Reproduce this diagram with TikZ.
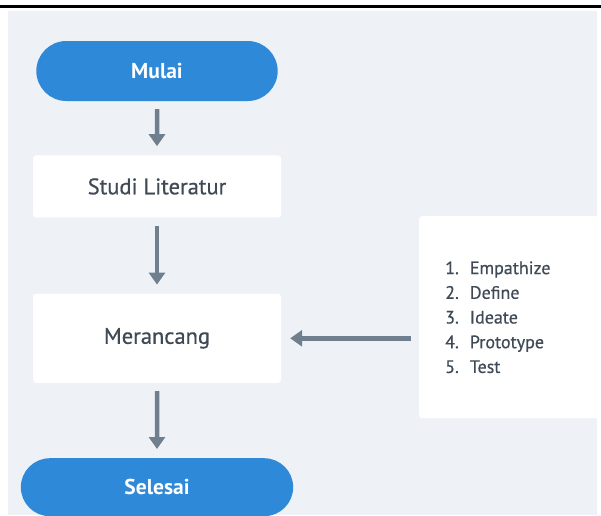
\documentclass[tikz,border=0pt]{standalone}
\usepackage{fontspec}
\setmainfont{PT Sans}
\usetikzlibrary{positioning,arrows.meta,shapes.misc}
\definecolor{PillBlue}{HTML}{2E89D9}
\definecolor{PageGrey}{HTML}{EEF2F6}
\definecolor{ArrowSlate}{HTML}{6F7F8E}
\definecolor{TextSlate}{HTML}{3F4A56}

\begin{document}
\begin{tikzpicture}[x=1pt,y=-1pt,
		pill/.style={rounded rectangle, fill=PillBlue, text=white,
			minimum width=248pt, minimum height=60pt,
			font=\fontsize{21.5}{25}\selectfont\bfseries},
		stepbox/.style={fill=white, rounded corners=3pt,
			minimum width=248pt, text=TextSlate,
			font=\fontsize{22.5}{26}\selectfont\addfontfeature{FakeBold=0.6}},
		listbox/.style={fill=white, rounded corners=3pt,
			minimum height=202pt, text width=130pt, inner xsep=26pt,
			align=left, text=TextSlate,
			font=\fontsize{18}{24.7}\selectfont\addfontfeature{FakeBold=0.5}},
		arrow/.style={-{Triangle[width=16pt,length=12pt]}, ArrowSlate,
			line width=4.5pt, shorten <=8pt, shorten >=9pt}
		]
		\useasboundingbox (0,0) rectangle (601,515);
		\fill[PageGrey] (8,11) rectangle (597,515);
		\draw[line width=3pt] (0,6.5) -- (601,6.5);
		% alur utama
		\node[pill] (mulai) at (157,71) {Mulai};
		\node[stepbox, minimum height=62pt, below=54pt of mulai] (studi) {Studi Literatur};
		\node[stepbox, minimum height=89pt, below=76pt of studi] (merancang) {Merancang};
		\node[pill, minimum width=279pt, minimum height=58pt, below=75pt of merancang] (selesai) {Selesai};
		% tahapan design thinking
		\node[listbox, anchor=north west] (tahapan) at (419,216)
			{1.\hspace{11pt}Empathize\\2.\hspace{11pt}Define\\3.\hspace{11pt}Ideate\\4.\hspace{11pt}Prototype\\5.\hspace{11pt}Test};
		\draw[arrow] (mulai) -- (studi);
		\draw[arrow] (studi) -- (merancang);
		\draw[arrow] (merancang) -- (selesai);
		\draw[arrow] (tahapan.west |- merancang.east) -- (merancang.east);
	\end{tikzpicture}
\end{document}
